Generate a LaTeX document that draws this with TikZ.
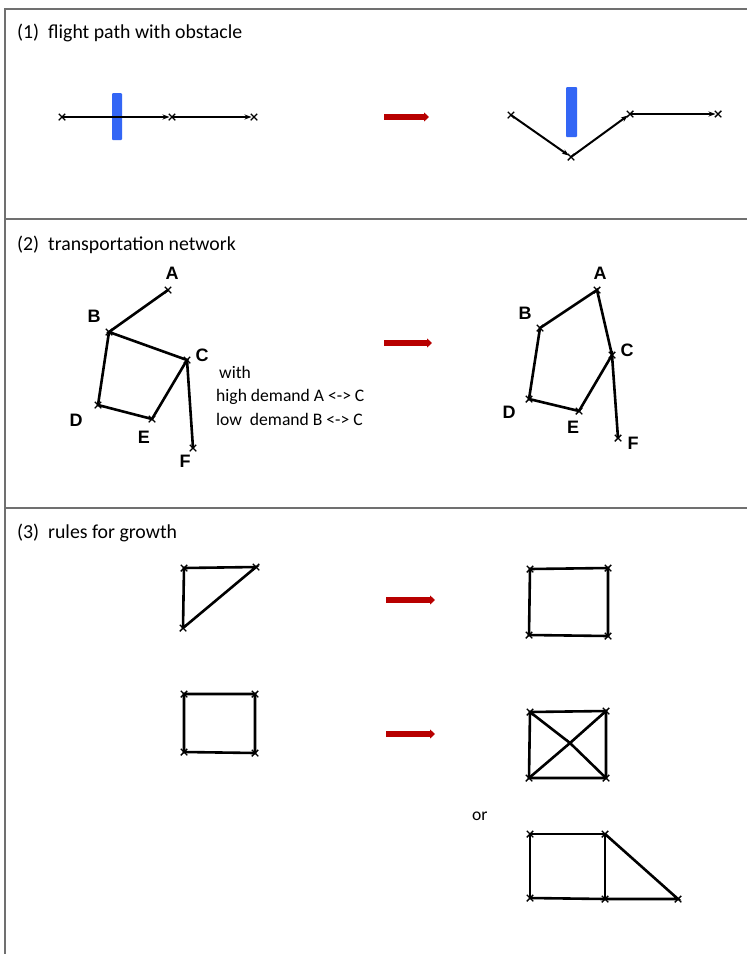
\documentclass[tikz,border=0pt]{standalone}
\usepackage{fontspec}
\setmainfont{Carlito}
\newfontfamily\labfont{Liberation Sans}
\usetikzlibrary{arrows.meta,shapes.misc}
\definecolor{framegray}{HTML}{707070}
\definecolor{obstblue}{HTML}{3366F5}
\definecolor{arrred}{HTML}{B80000}
\tikzset{
  frameline/.style={draw=framegray,line width=1.3pt},
  pt/.style={cross out,draw=black,line width=1.4pt,minimum size=6.5pt,inner sep=0pt,outer sep=0pt},
  edge/.style={line width=2.6pt,line cap=round},
  fpath/.style={line width=2pt,shorten >=2.5pt,-{Stealth[length=7pt,width=5pt]}},
  bigarrow/.style={draw=arrred,line width=5.5pt,-{Triangle[length=5pt,width=9pt]}},
  obstacle/.style={fill=obstblue,rounded corners=1pt},
  title/.style={anchor=base west,font=\fontsize{19.8pt}{23pt}\selectfont,inner sep=0pt},
  body/.style={anchor=base west,font=\fontsize{17.6pt}{21pt}\selectfont,inner sep=0pt},
  lab/.style={font=\labfont\bfseries\fontsize{18pt}{21pt}\selectfont,inner sep=0pt}
}
\begin{document}
\begin{tikzpicture}[x=1pt,y=-1pt]
\useasboundingbox (0,0) rectangle (747,954);
\fill[white] (0,0) rectangle (747,954);
% frame
\coordinate (tl) at (5,9);
\coordinate (tr) at (748,9);
\coordinate (bl) at (5,955);
\coordinate (s1l) at (5,219);
\coordinate (s1r) at (748,219);
\coordinate (s2l) at (5,508);
\coordinate (s2r) at (748,508);
\draw[frameline] (tr) -- (tl) -- (bl);
\draw[frameline] (s1l) -- (s1r);
\draw[frameline] (s2l) -- (s2r);

% ---------- Panel 1 ----------
\node[title] (t1) at (17,38) {(1)\ \ flight path with obstacle};
\fill[obstacle] (112,93) rectangle (122,140);
\node[pt] (f1) at (62,117) {};
\node[pt] (f2) at (172,117) {};
\node[pt] (f3) at (254,117) {};
\draw[fpath] (f1.center) -- (f2.center);
\draw[fpath] (f2.center) -- (f3.center);
\coordinate (ra1) at (384,117);
\coordinate (rb1) at (429,117);
\draw[bigarrow] (ra1) -- (rb1);
\fill[obstacle] (566,87) rectangle (577,137);
\node[pt] (g1) at (511,115) {};
\node[pt] (g2) at (571,157) {};
\node[pt] (g3) at (630,114) {};
\node[pt] (g4) at (718,114) {};
\draw[fpath] (g1.center) -- (g2.center);
\draw[fpath] (g2.center) -- (g3.center);
\draw[fpath] (g3.center) -- (g4.center);

% ---------- Panel 2 ----------
\node[title] (t2) at (17,250) {(2)\ \ transportation network};
\node[pt] (A) at (168,290) {};
\node[pt] (B) at (109,332) {};
\node[pt] (C) at (187,360) {};
\node[pt] (D) at (98,405) {};
\node[pt] (E) at (152,419) {};
\node[pt] (F) at (193,448) {};
\draw[edge] (A.center) -- (B.center) -- (C.center) -- (E.center) -- (D.center) -- (B.center);
\draw[edge] (C.center) -- (F.center);
\node[lab] (lA) at (172,273) {A};
\node[lab] (lB) at (94,316) {B};
\node[lab] (lC) at (202,355) {C};
\node[lab] (lD) at (76,420) {D};
\node[lab] (lE) at (144,437) {E};
\node[lab] (lF) at (185,461) {F};
\node[body] (w1) at (219,378) {with};
\node[body] (w2) at (216,401) {high demand A <-> C};
\node[body] (w3) at (216,425) {low\ \ demand B <-> C};
\coordinate (ra2) at (384,343);
\coordinate (rb2) at (432,343);
\draw[bigarrow] (ra2) -- (rb2);
\node[pt] (A2) at (597,290) {};
\node[pt] (B2) at (540,328) {};
\node[pt] (C2) at (612,355) {};
\node[pt] (D2) at (529,399) {};
\node[pt] (E2) at (579,411) {};
\node[pt] (F2) at (618,438) {};
\draw[edge] (C2.center) -- (A2.center) -- (B2.center) -- (D2.center) -- (E2.center) -- (C2.center) -- (F2.center);
\node[lab] (lA2) at (600,273) {A};
\node[lab] (lB2) at (525,313) {B};
\node[lab] (lC2) at (627,350) {C};
\node[lab] (lD2) at (509,412) {D};
\node[lab] (lE2) at (573,427) {E};
\node[lab] (lF2) at (633,443) {F};

% ---------- Panel 3 ----------
\node[title] (t3) at (17,538) {(3)\ \ rules for growth};
% triangle
\node[pt] (ta) at (184,568) {};
\node[pt] (tb) at (256,567) {};
\node[pt] (tc) at (183,628) {};
\draw[edge] (tc.center) -- (ta.center) -- (tb.center) -- (tc.center);
\coordinate (ra3) at (386,600);
\coordinate (rb3) at (435,600);
\draw[bigarrow] (ra3) -- (rb3);
% square result
\node[pt] (q1) at (530,569) {};
\node[pt] (q2) at (608,568) {};
\node[pt] (q3) at (529,635) {};
\node[pt] (q4) at (608,636) {};
\draw[edge] (q1.center) -- (q2.center) -- (q4.center) -- (q3.center) -- cycle;
% square
\node[pt] (s1) at (184,694) {};
\node[pt] (s2) at (255,694) {};
\node[pt] (s3) at (184,752) {};
\node[pt] (s4) at (255,753) {};
\draw[edge] (s1.center) -- (s2.center) -- (s4.center) -- (s3.center) -- cycle;
\coordinate (ra4) at (386,734);
\coordinate (rb4) at (435,734);
\draw[bigarrow] (ra4) -- (rb4);
% crossed square
\node[pt] (x1) at (530,712) {};
\node[pt] (x2) at (606,711) {};
\node[pt] (x3) at (529,778) {};
\node[pt] (x4) at (606,778) {};
\node[pt] (x5) at (570,743) {};
\draw[edge] (x1.center) -- (x2.center) -- (x4.center) -- (x3.center) -- cycle;
\draw[edge] (x1.center) -- (x5.center) -- (x4.center);
\draw[edge] (x3.center) -- (x5.center) -- (x2.center);
\node[body] (or) at (472,820) {or};
% square + triangle
\node[pt] (p1) at (530,834) {};
\node[pt] (p2) at (605,834) {};
\node[pt] (p3) at (530,898) {};
\node[pt] (p4) at (605,899) {};
\node[pt] (p5) at (678,899) {};
\draw[edge] (p3.center) -- (p1.center) -- (p2.center) -- (p4.center);
\draw[edge] (p3.center) -- (p4.center) -- (p5.center) -- (p2.center);
\end{tikzpicture}
\end{document}
